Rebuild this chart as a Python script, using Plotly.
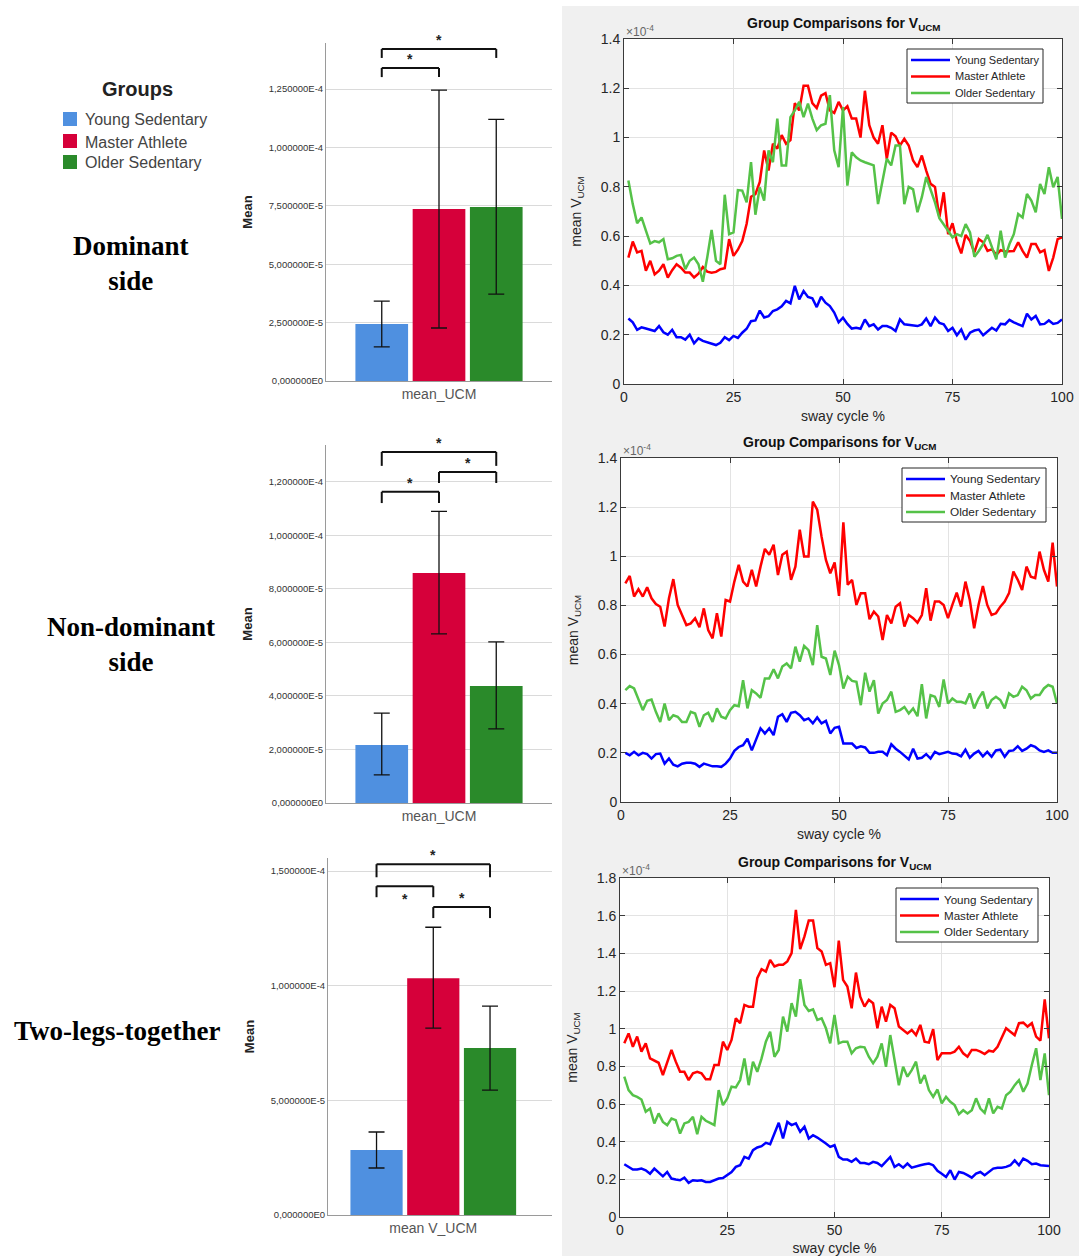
import plotly.graph_objects as go

W, H = 1079, 1256

groups = ["Young Sedentary", "Master Athlete", "Older Sedentary"]
bar_colors = ["#4f90e0", "#d6003a", "#2a8a2a"]
line_colors = ["#0000ff", "#ff0000", "#55c248"]
row_labels = ["Dominant<br>side", "Non-dominant<br>side", "Two-legs-together"]
bar_xlabels = ["mean_UCM", "mean_UCM", "mean V_UCM"]

# ---- bar chart data (mean and error-bar limits) ----
dom_mean = [2.44e-5, 7.36e-5, 7.45e-5]
dom_low = [1.46e-5, 2.27e-5, 3.72e-5]
dom_high = [3.42e-5, 1.245e-4, 1.12e-4]
nd_mean = [2.17e-5, 8.60e-5, 4.37e-5]
nd_low = [1.05e-5, 6.32e-5, 2.77e-5]
nd_high = [3.36e-5, 1.09e-4, 6.02e-5]
two_mean = [2.83e-5, 1.033e-4, 7.28e-5]
two_low = [2.05e-5, 8.15e-5, 5.45e-5]
two_high = [3.62e-5, 1.255e-4, 9.11e-5]

dom_ticks = [0, 2.5e-5, 5e-5, 7.5e-5, 1e-4, 1.25e-4]
dom_ticktext = ["0,000000E0", "2,500000E-5", "5,000000E-5", "7,500000E-5", "1,000000E-4", "1,250000E-4"]
nd_ticks = [0, 2e-5, 4e-5, 6e-5, 8e-5, 1e-4, 1.2e-4]
nd_ticktext = ["0,000000E0", "2,000000E-5", "4,000000E-5", "6,000000E-5", "8,000000E-5", "1,000000E-4", "1,200000E-4"]
two_ticks = [0, 5e-5, 1e-4, 1.5e-4]
two_ticktext = ["0,000000E0", "5,000000E-5", "1,000000E-4", "1,500000E-4"]

# significance brackets: (group i, group j, y of bar, y of leg ends, star above/below bar)
dom_sig = [(0, 2, 1.421e-4, 1.383e-4, "above"), (0, 1, 1.340e-4, 1.301e-4, "above")]
nd_sig = [(0, 2, 1.312e-4, 1.260e-4, "above"), (1, 2, 1.237e-4, 1.196e-4, "above"),
          (0, 1, 1.163e-4, 1.121e-4, "above")]
two_sig = [(0, 2, 1.530e-4, 1.473e-4, "above"), (0, 1, 1.434e-4, 1.386e-4, "below"),
           (1, 2, 1.343e-4, 1.295e-4, "above")]

# ---- line chart data (x 1e-4) ----
cycle = list(range(1, 101))

dom_young = [0.266,0.25,0.22,0.23,0.225,0.22,0.215,0.235,0.21,0.20,
             0.22,0.19,0.19,0.18,0.20,0.165,0.185,0.175,0.17,0.165,
             0.158,0.167,0.19,0.178,0.195,0.187,0.208,0.224,0.255,0.258,
             0.298,0.27,0.275,0.296,0.303,0.315,0.337,0.327,0.398,0.343,
             0.377,0.353,0.348,0.312,0.354,0.33,0.316,0.29,0.25,0.269,
             0.244,0.225,0.228,0.224,0.262,0.235,0.242,0.221,0.235,0.235,
             0.228,0.215,0.262,0.242,0.239,0.235,0.235,0.242,0.266,0.235,
             0.27,0.248,0.242,0.215,0.228,0.198,0.221,0.18,0.208,0.217,
             0.221,0.198,0.215,0.228,0.217,0.244,0.242,0.26,0.25,0.242,
             0.235,0.285,0.262,0.276,0.242,0.244,0.258,0.244,0.248,0.262]
dom_master = [0.513,0.578,0.534,0.54,0.46,0.5,0.445,0.46,0.486,0.432,
              0.462,0.486,0.472,0.452,0.452,0.432,0.448,0.475,0.456,0.452,
              0.455,0.466,0.47,0.588,0.52,0.545,0.58,0.65,0.76,0.77,
              0.82,0.948,0.866,0.975,0.955,1.01,0.975,0.99,1.14,1.11,
              1.21,1.21,1.14,1.12,1.17,1.18,1.11,1.10,1.145,1.11,
              1.127,1.077,1.077,1.0,1.19,1.05,1.0,0.975,1.05,0.914,
              1.02,1.005,0.968,0.995,0.968,0.907,0.88,0.927,0.866,0.812,
              0.8,0.676,0.778,0.608,0.652,0.578,0.53,0.605,0.58,0.534,
              0.588,0.575,0.54,0.547,0.524,0.543,0.538,0.54,0.54,0.575,
              0.54,0.513,0.568,0.568,0.534,0.543,0.459,0.513,0.588,0.595]
dom_older = [0.826,0.73,0.652,0.676,0.622,0.57,0.58,0.575,0.588,0.506,
             0.51,0.52,0.524,0.466,0.5,0.513,0.486,0.415,0.513,0.625,
             0.5,0.486,0.768,0.608,0.615,0.787,0.785,0.737,0.9,0.687,
             0.798,0.744,0.948,0.9,1.077,0.887,0.887,1.083,1.11,1.145,
             1.083,1.138,1.077,1.03,1.05,1.056,1.172,0.948,0.88,1.124,
             0.805,0.94,0.92,0.907,0.9,0.893,0.887,0.73,0.826,0.914,
             0.887,0.968,0.968,0.73,0.8,0.79,0.697,0.758,0.84,0.79,
             0.737,0.673,0.649,0.622,0.595,0.608,0.6,0.649,0.615,0.516,
             0.54,0.568,0.605,0.554,0.506,0.622,0.513,0.568,0.608,0.69,
             0.676,0.771,0.744,0.697,0.812,0.771,0.88,0.798,0.84,0.67]

nd_young = [0.2,0.19,0.204,0.19,0.2,0.195,0.177,0.195,0.197,0.156,
            0.177,0.152,0.145,0.156,0.16,0.16,0.156,0.143,0.156,0.15,
            0.145,0.145,0.143,0.156,0.177,0.208,0.224,0.231,0.258,0.21,
            0.258,0.3,0.279,0.3,0.272,0.347,0.357,0.326,0.363,0.367,
            0.353,0.333,0.34,0.32,0.344,0.32,0.33,0.279,0.302,0.306,
            0.238,0.238,0.238,0.22,0.227,0.222,0.2,0.2,0.204,0.204,
            0.19,0.235,0.217,0.204,0.19,0.173,0.217,0.177,0.18,0.195,
            0.177,0.204,0.195,0.2,0.204,0.197,0.195,0.186,0.213,0.18,
            0.197,0.208,0.186,0.204,0.184,0.21,0.213,0.184,0.208,0.21,
            0.227,0.208,0.217,0.231,0.224,0.21,0.204,0.21,0.2,0.2]
nd_master = [0.89,0.92,0.836,0.866,0.836,0.874,0.829,0.806,0.795,0.714,
             0.829,0.907,0.802,0.761,0.72,0.727,0.748,0.711,0.788,0.7,
             0.666,0.768,0.673,0.822,0.816,0.897,0.965,0.897,0.877,0.945,
             0.877,0.958,1.03,1.006,1.047,0.924,1.006,1.019,0.904,0.958,
             1.108,0.999,0.999,1.223,1.19,1.08,0.985,0.931,0.975,0.839,
             1.138,0.884,0.904,0.802,0.85,0.85,0.744,0.775,0.755,0.659,
             0.761,0.727,0.795,0.809,0.714,0.761,0.748,0.73,0.761,0.87,
             0.738,0.816,0.816,0.802,0.748,0.802,0.852,0.795,0.897,0.822,
             0.707,0.802,0.879,0.802,0.761,0.768,0.795,0.816,0.85,0.938,
             0.904,0.863,0.958,0.917,0.911,1.019,0.945,0.897,1.056,0.877]
nd_older = [0.455,0.472,0.462,0.421,0.374,0.412,0.417,0.367,0.326,0.401,
            0.333,0.353,0.347,0.326,0.326,0.367,0.36,0.306,0.353,0.363,
            0.326,0.381,0.347,0.34,0.374,0.394,0.39,0.496,0.381,0.455,
            0.442,0.424,0.503,0.503,0.54,0.503,0.551,0.564,0.544,0.632,
            0.571,0.635,0.618,0.557,0.72,0.591,0.584,0.517,0.616,0.557,
            0.462,0.51,0.493,0.489,0.394,0.526,0.449,0.496,0.36,0.401,
            0.415,0.449,0.367,0.374,0.387,0.36,0.381,0.349,0.48,0.34,
            0.435,0.428,0.387,0.499,0.401,0.421,0.408,0.408,0.401,0.442,
            0.381,0.421,0.449,0.381,0.415,0.428,0.415,0.381,0.442,0.428,
            0.435,0.469,0.455,0.421,0.435,0.435,0.462,0.476,0.469,0.401]

two_young = [0.28,0.266,0.252,0.252,0.257,0.248,0.23,0.257,0.239,0.216,
             0.239,0.204,0.199,0.195,0.209,0.181,0.195,0.192,0.195,0.186,
             0.186,0.195,0.204,0.207,0.222,0.239,0.266,0.275,0.319,0.31,
             0.355,0.369,0.376,0.394,0.387,0.443,0.5,0.417,0.505,0.488,
             0.497,0.452,0.479,0.417,0.434,0.422,0.408,0.39,0.372,0.381,
             0.319,0.305,0.305,0.293,0.31,0.287,0.287,0.28,0.293,0.287,
             0.27,0.293,0.319,0.266,0.28,0.262,0.284,0.262,0.27,0.275,
             0.28,0.284,0.275,0.245,0.23,0.213,0.248,0.199,0.239,0.234,
             0.222,0.209,0.23,0.239,0.222,0.239,0.257,0.262,0.262,0.266,
             0.275,0.301,0.275,0.31,0.298,0.28,0.284,0.275,0.275,0.271]
two_master = [0.922,0.975,0.904,0.958,0.878,0.922,0.842,0.83,0.819,0.754,
              0.825,0.887,0.825,0.771,0.771,0.727,0.763,0.771,0.763,0.731,
              0.731,0.807,0.807,0.931,0.887,0.94,1.055,1.029,1.126,1.117,
              1.117,1.268,1.316,1.303,1.365,1.33,1.339,1.339,1.357,1.401,
              1.631,1.422,1.49,1.575,1.575,1.428,1.41,1.339,1.348,1.22,
              1.468,1.259,1.224,1.108,1.298,1.17,1.117,1.153,1.135,1.002,
              1.117,1.037,1.126,1.108,1.011,0.993,0.975,0.993,0.966,1.02,
              0.931,0.926,0.997,0.833,0.869,0.869,0.869,0.878,0.904,0.869,
              0.851,0.887,0.887,0.878,0.865,0.883,0.878,0.904,0.958,1.002,
              0.984,0.966,1.029,1.032,1.011,1.029,0.958,0.936,1.156,0.949]
two_older = [0.745,0.674,0.647,0.638,0.624,0.559,0.576,0.497,0.55,0.505,
             0.488,0.523,0.514,0.443,0.497,0.505,0.532,0.44,0.532,0.511,
             0.5,0.488,0.674,0.594,0.63,0.692,0.688,0.727,0.842,0.7,
             0.825,0.771,0.842,0.931,0.984,0.851,0.887,1.064,0.984,1.135,
             1.064,1.263,1.126,1.094,1.103,1.046,1.055,1.002,0.922,1.073,
             0.922,0.931,0.931,0.869,0.896,0.904,0.901,0.851,0.816,0.851,
             0.922,0.798,0.966,0.842,0.7,0.798,0.745,0.78,0.825,0.709,
             0.754,0.674,0.638,0.677,0.603,0.638,0.612,0.594,0.546,0.567,
             0.55,0.567,0.63,0.576,0.553,0.63,0.55,0.585,0.576,0.647,
             0.665,0.7,0.727,0.665,0.709,0.807,0.896,0.727,0.869,0.647]

# ---------------- layout helpers ----------------
def px_x(p):
    return p / W

def px_y(p):
    return 1 - p / H

SANS = "Arial, Liberation Sans, sans-serif"
SERIF = "Times New Roman, Liberation Serif, serif"

fig = go.Figure()

bar_sets = [
    (dom_mean, dom_low, dom_high, dom_ticks, dom_ticktext, dom_sig),
    (nd_mean, nd_low, nd_high, nd_ticks, nd_ticktext, nd_sig),
    (two_mean, two_low, two_high, two_ticks, two_ticktext, two_sig),
]
line_sets = [
    (dom_young, dom_master, dom_older),
    (nd_young, nd_master, nd_older),
    (two_young, two_master, two_older),
]

# panel geometry in pixels (left, right, top, bottom)
bar_boxes = [(326, 552, 43, 381), (326, 552, 445, 803), (328, 552, 858, 1215)]
bar_ranges = [[0, 1.447e-4], [0, 1.338e-4], [0, 1.557e-4]]
bar_xranges = [[-0.5, 0.5], [-0.5, 0.5], [-0.47, 0.53]]
line_boxes = [(624, 1062, 39, 384), (621, 1057, 458, 802), (620, 1049, 878, 1217)]
line_yranges = [[0, 1.4], [0, 1.4], [0, 1.8]]
# MATLAB legend boxes (left, top, width, height, font size)
legend_boxes = [(907, 49, 136, 54, 11), (902, 468, 144, 54, 11.8), (896, 888, 142, 54, 11.6)]
row_label_pos = [(131, 264), (131, 644), (117, 1031)]

BARGAP = 0.24
slot = (1 - BARGAP) / 3
centers = [(k - 1) * slot for k in range(3)]

shapes = []
annotations = []
layout_axes = {}

# grey MATLAB figure background behind the right panels
shapes.append(dict(type="rect", xref="paper", yref="paper", x0=px_x(562), x1=1.0,
                   y0=0, y1=px_y(6), fillcolor="#f0f0f0", line=dict(width=0), layer="below"))

# manual "Groups" legend (SPSS style)
annotations.append(dict(xref="paper", yref="paper", x=px_x(137), y=px_y(89),
                        xanchor="center", yanchor="middle", showarrow=False,
                        text="<b>Groups</b>", font=dict(family=SANS, size=20, color="#222222")))
legend_rows = [119, 141, 162]
for g in range(3):
    cy = legend_rows[g]
    shapes.append(dict(type="rect", xref="paper", yref="paper",
                       x0=px_x(63), x1=px_x(77), y0=px_y(cy + 7), y1=px_y(cy - 7),
                       fillcolor=bar_colors[g], line=dict(width=0)))
    annotations.append(dict(xref="paper", yref="paper", x=px_x(83), y=px_y(cy + 1),
                            xanchor="left", yanchor="middle", showarrow=False,
                            text=groups[g], font=dict(family=SANS, size=16, color="#444444")))

for r in range(3):
    mean, low, high, ticks, ticktext, sig = bar_sets[r]
    bx = 2 * r + 1
    lx = 2 * r + 2
    bxs = "" if bx == 1 else str(bx)
    lxs = str(lx)

    # ---- bar chart ----
    for g in range(3):
        fig.add_trace(go.Bar(
            x=[0], y=[mean[g]], name=groups[g],
            marker=dict(color=bar_colors[g], line=dict(width=0)),
            error_y=dict(type="data", symmetric=False,
                         array=[high[g] - mean[g]], arrayminus=[mean[g] - low[g]],
                         color="#111111", thickness=1.3, width=8),
            xaxis="x" + bxs, yaxis="y" + bxs, showlegend=False,
        ))
    l, rr, t, b = bar_boxes[r]
    layout_axes["xaxis" + bxs] = dict(
        domain=[px_x(l), px_x(rr)], anchor="y" + bxs, range=bar_xranges[r],
        tickvals=[0], ticktext=[bar_xlabels[r]], showgrid=False, zeroline=False,
        showline=True, linecolor="#9a9a9a", linewidth=1, ticks="",
        tickfont=dict(family=SANS, size=14, color="#555555"), fixedrange=True,
        automargin=False)
    layout_axes["yaxis" + bxs] = dict(
        domain=[px_y(b), px_y(t)], anchor="x" + bxs, range=bar_ranges[r],
        tickvals=ticks, ticktext=ticktext, showgrid=True, gridcolor="#dadada",
        gridwidth=1, zeroline=False, showline=True, linecolor="#9a9a9a", linewidth=1,
        ticks="", tickfont=dict(family=SANS, size=9.5, color="#333333"),
        automargin=False,
        title=dict(text="<b>Mean</b>", font=dict(family=SANS, size=13, color="#222222"),
                   standoff=13))
    for (i, j, yb, yl, pos) in sig:
        xi, xj = centers[i], centers[j]
        for (xa, ya, xb2, yb2) in [(xi, yl, xi, yb), (xi, yb, xj, yb), (xj, yb, xj, yl)]:
            shapes.append(dict(type="line", xref="x" + bxs, yref="y" + bxs,
                               x0=xa, y0=ya, x1=xb2, y1=yb2,
                               line=dict(color="#111111", width=2)))
        annotations.append(dict(xref="x" + bxs, yref="y" + bxs, x=(xi + xj) / 2, y=yb,
                                text="<b>*</b>", showarrow=False,
                                yanchor="bottom" if pos == "above" else "top",
                                yshift=-1 if pos == "above" else -3,
                                font=dict(family=SANS, size=14, color="#222222")))

    # ---- line chart ----
    ys3 = line_sets[r]
    shapes.append(dict(type="rect", xref="x" + lxs + " domain", yref="y" + lxs + " domain",
                       x0=0, x1=1, y0=0, y1=1, fillcolor="white", line=dict(width=0),
                       layer="below"))
    for g in range(3):
        fig.add_trace(go.Scatter(
            x=cycle, y=ys3[g], mode="lines", name=groups[g],
            line=dict(color=line_colors[g], width=2.5),
            xaxis="x" + lxs, yaxis="y" + lxs, showlegend=False,
        ))
    l, rr, t, b = line_boxes[r]
    axis_common = dict(showgrid=True, gridcolor="#e3e3e3", gridwidth=1, zeroline=False,
                       showline=True, mirror="ticks", linecolor="#3a3a3a", linewidth=1,
                       ticks="inside", ticklen=5, tickcolor="#3a3a3a",
                       tickfont=dict(family=SANS, size=14, color="#262626"), fixedrange=True,
                       automargin=False)
    layout_axes["xaxis" + lxs] = dict(
        domain=[px_x(l), px_x(rr)], anchor="y" + lxs, range=[0, 100],
        tickvals=[0, 25, 50, 75, 100],
        title=dict(text="sway cycle %", font=dict(family=SANS, size=14, color="#262626"),
                   standoff=7),
        **axis_common)
    layout_axes["yaxis" + lxs] = dict(
        domain=[px_y(b), px_y(t)], anchor="x" + lxs, range=line_yranges[r], dtick=0.2,
        title=dict(text="mean V<sub>UCM</sub>", font=dict(family=SANS, size=14, color="#262626"),
                   standoff=15),
        **axis_common)
    annotations.append(dict(xref="x" + lxs + " domain", yref="y" + lxs + " domain",
                            x=0.5, y=1, yanchor="bottom", yshift=4, showarrow=False,
                            text="<b>Group Comparisons for V<sub>UCM</sub></b>",
                            font=dict(family=SANS, size=14, color="#111111")))
    annotations.append(dict(xref="x" + lxs + " domain", yref="y" + lxs + " domain",
                            x=0, y=1, xanchor="left", yanchor="bottom", xshift=0, yshift=-2,
                            showarrow=False, text="\u00d710<sup>-4</sup>",
                            font=dict(family=SANS, size=12, color="#666666")))

    # MATLAB-style legend box
    bl, bt, bw, bh, fs = legend_boxes[r]
    shapes.append(dict(type="rect", xref="paper", yref="paper",
                       x0=px_x(bl), x1=px_x(bl + bw), y0=px_y(bt + bh), y1=px_y(bt),
                       fillcolor="white", line=dict(color="#262626", width=1)))
    for g in range(3):
        ly = bt + 11 + g * 16.5
        shapes.append(dict(type="line", xref="paper", yref="paper",
                           x0=px_x(bl + 4), x1=px_x(bl + 43), y0=px_y(ly), y1=px_y(ly),
                           line=dict(color=line_colors[g], width=2.5)))
        annotations.append(dict(xref="paper", yref="paper", x=px_x(bl + 46), y=px_y(ly),
                                xanchor="left", yanchor="middle", showarrow=False,
                                text=groups[g], font=dict(family=SANS, size=fs, color="#262626")))

    # row label on the left
    rx, ry = row_label_pos[r]
    annotations.append(dict(xref="paper", yref="paper", x=px_x(rx), y=px_y(ry),
                            xanchor="center", yanchor="middle", showarrow=False,
                            text="<b>" + row_labels[r] + "</b>",
                            font=dict(family=SERIF, size=27, color="#000000")))

fig.update_layout(
    width=W, height=H, margin=dict(l=0, r=0, t=0, b=0, pad=0, autoexpand=False),
    paper_bgcolor="white", plot_bgcolor="white", showlegend=False,
    barmode="group", bargap=BARGAP, bargroupgap=0.08,
    shapes=shapes, annotations=annotations,
    **layout_axes,
)

fig.write_html("out.html",
               config={"displayModeBar": False},
               post_script="document.body.style.margin='0';"
                           "document.body.style.overflow='hidden';")
